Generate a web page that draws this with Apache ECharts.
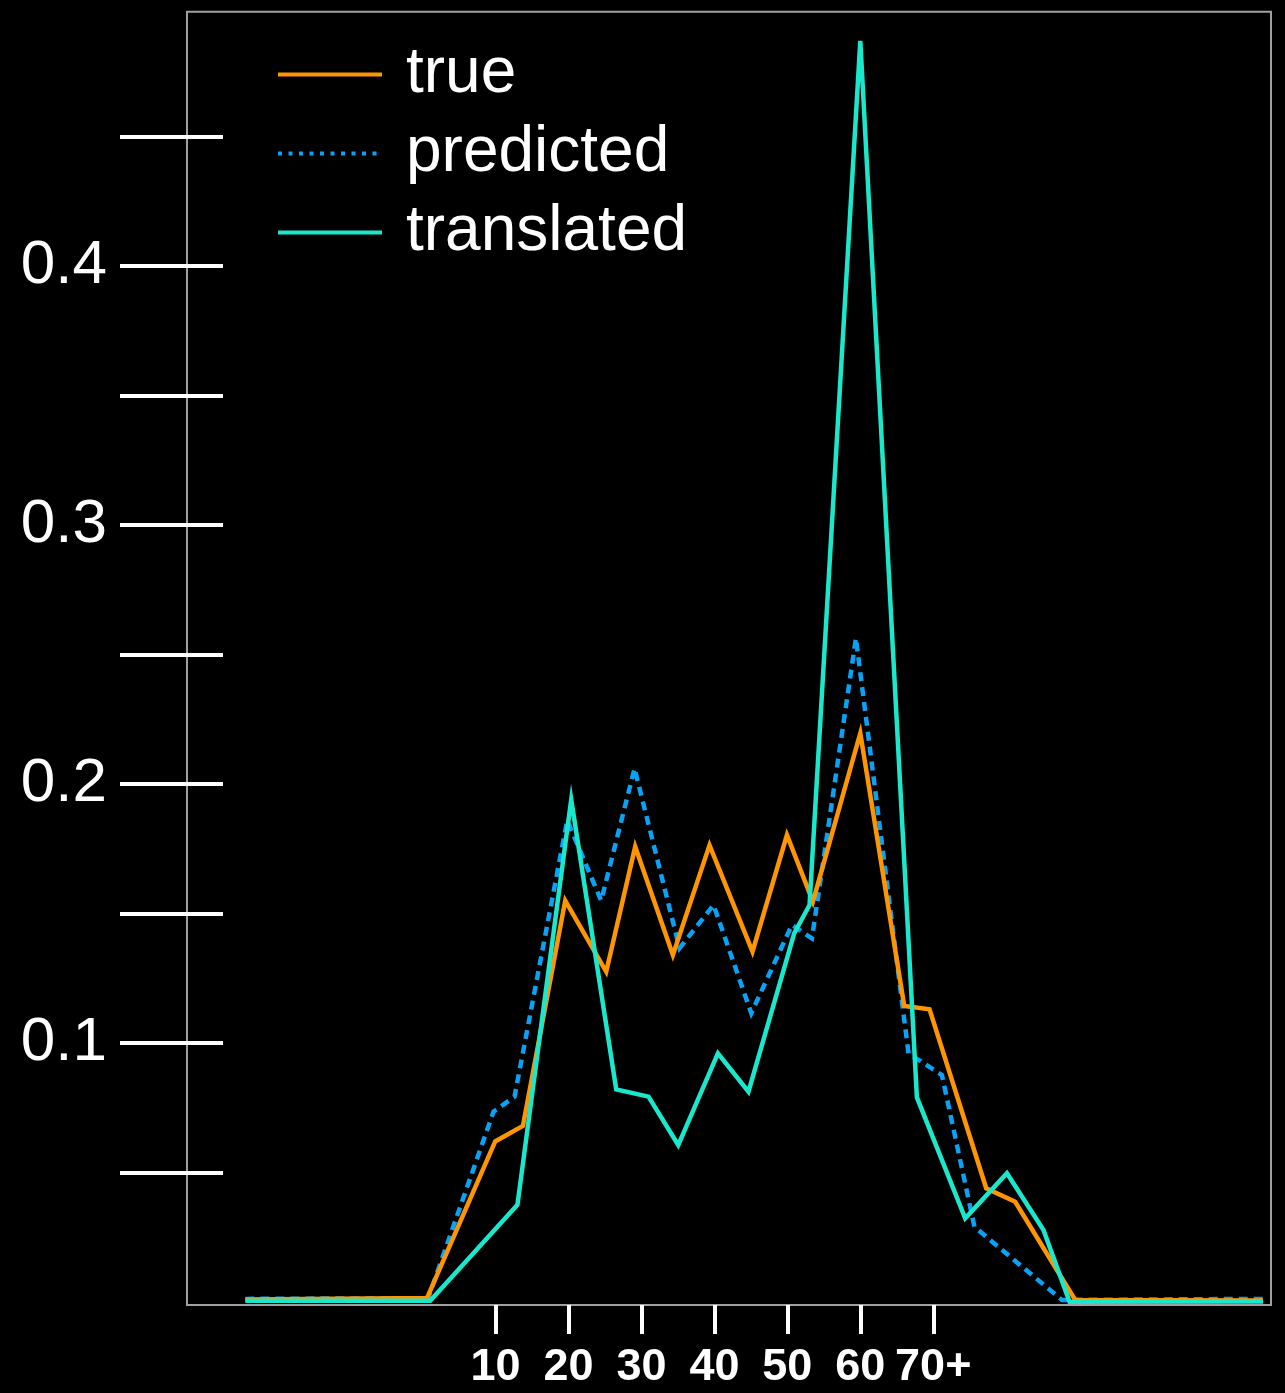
<!DOCTYPE html>
<html>
<head>
<meta charset="utf-8">
<script src="https://cdn.jsdelivr.net/npm/echarts@6/dist/echarts.min.js"></script>
<style>
html,body{margin:0;padding:0;background:#000;}
#chart{width:1285px;height:1393px;}
</style>
</head>
<body>
<div id="chart"></div>
<script>
// x positions are ages (years), y values are proportions
const trueX = [-24.3, 0.6, 9.95, 13.75, 19.55, 25.17, 29.14, 34.31, 39.33, 45.22, 49.94, 53.5, 60.0, 66.02, 69.49, 77.26, 81.23, 89.46, 115.2];
const trueY = [0.001, 0.0015, 0.062, 0.068, 0.155, 0.1275, 0.1758, 0.134, 0.1764, 0.1353, 0.1803, 0.1546, 0.2196, 0.1143, 0.113, 0.0439, 0.0387, 0.0008, 0.0006];

const predX = [-24.3, 0.77, 9.72, 12.6, 19.82, 24.48, 29.05, 35.22, 39.88, 45.05, 50.62, 53.37, 59.4, 66.61, 71.19, 75.65, 87.64, 115.2];
const predY = [0.0012, 0.0015, 0.0735, 0.0793, 0.186, 0.155, 0.206, 0.1366, 0.1533, 0.1115, 0.1456, 0.1404, 0.2563, 0.096, 0.0876, 0.029, 0.0008, 0.0012];

const transX = [-24.3, 1.04, 13.0, 20.37, 26.54, 30.97, 35.04, 40.48, 44.67, 50.94, 53.04, 60.0, 67.76, 74.38, 80.1, 85.11, 88.68, 115.2];
const transY = [0.0005, 0.0005, 0.0375, 0.194, 0.0821, 0.0793, 0.0606, 0.096, 0.0812, 0.1423, 0.1533, 0.4869, 0.079, 0.0323, 0.0497, 0.0278, 0.0001, 0.0002];

const seriesNames = ['true', 'predicted', 'translated'];
const xTickValues = [10, 20, 30, 40, 50, 60, 70];
const xTickLabels = ['10', '20', '30', '40', '50', '60', '70+'];
const yTickValues = [0.05, 0.1, 0.15, 0.2, 0.25, 0.3, 0.35, 0.4, 0.45];
const yLabelValues = [0.1, 0.2, 0.3, 0.4];

const pair = (xs, ys) => xs.map((x, i) => [x, ys[i]]);

const chart = echarts.init(document.getElementById('chart'));
const yMin = -0.00116, yMax = 0.4982;
chart.setOption({
  backgroundColor: '#000',
  animation: false,
  grid: {left: 187, right: 14, top: 11.7, bottom: 88, show: true, borderColor: '#a0a0a0', borderWidth: 2, backgroundColor: 'transparent'},
  legend: {
    orient: 'vertical', left: 276, top: 42.5, padding: 0,
    itemWidth: 104, itemHeight: 20, itemGap: 15,
    itemStyle: {opacity: 0},
    lineStyle: {width: 4},
    textStyle: {color: '#fff', fontSize: 64, fontFamily: 'Liberation Sans', padding: [0, 0, 0, 19]},
    data: [
      {name: 'true'},
      {name: 'predicted', lineStyle: {type: [4, 6.5], width: 4}},
      {name: 'translated'}
    ]
  },
  xAxis: {
    type: 'value', min: -32.3, max: 116.3,
    axisLine: {show: false, onZero: false},
    splitLine: {show: false},
    axisTick: {show: true, customValues: xTickValues, length: 29, lineStyle: {color: '#fff', width: 4}},
    axisLabel: {
      customValues: xTickValues, color: '#fff', fontSize: 45, fontWeight: 'bold',
      fontFamily: 'Liberation Sans', margin: 40,
      formatter: v => xTickLabels[xTickValues.indexOf(v)]
    }
  },
  yAxis: [
    {
      type: 'value', min: yMin, max: yMax, position: 'left', offset: 0,
      axisLine: {show: false, onZero: false}, splitLine: {show: false},
      axisTick: {show: true, customValues: yTickValues, length: 67, lineStyle: {color: '#fff', width: 4}},
      axisLabel: {customValues: yLabelValues, color: '#fff', fontSize: 62, fontFamily: 'Liberation Sans', margin: 80,
        padding: [12, 0, 0, 0], formatter: v => v.toFixed(1)}
    },
    {
      type: 'value', min: yMin, max: yMax, position: 'left', offset: 0,
      axisLine: {show: false, onZero: false}, splitLine: {show: false},
      axisTick: {show: true, inside: true, customValues: yTickValues, length: 36, lineStyle: {color: '#fff', width: 4}},
      axisLabel: {show: false}
    }
  ],
  series: [
    {name: seriesNames[0], type: 'line', symbol: 'none', data: pair(trueX, trueY),
      lineStyle: {color: '#ff9500', width: 4.5, join: 'miter'}, itemStyle: {color: '#ff9500'}, z: 3},
    {name: seriesNames[1], type: 'line', symbol: 'none', data: pair(predX, predY),
      lineStyle: {color: '#0aa2f5', width: 4.5, type: [9, 6], join: 'miter'}, itemStyle: {color: '#0aa2f5'}, z: 2},
    {name: seriesNames[2], type: 'line', symbol: 'none', data: pair(transX, transY),
      lineStyle: {color: '#19e8cc', width: 4.5, join: 'miter'}, itemStyle: {color: '#19e8cc'}, z: 4}
  ]
});
</script>
</body>
</html>
